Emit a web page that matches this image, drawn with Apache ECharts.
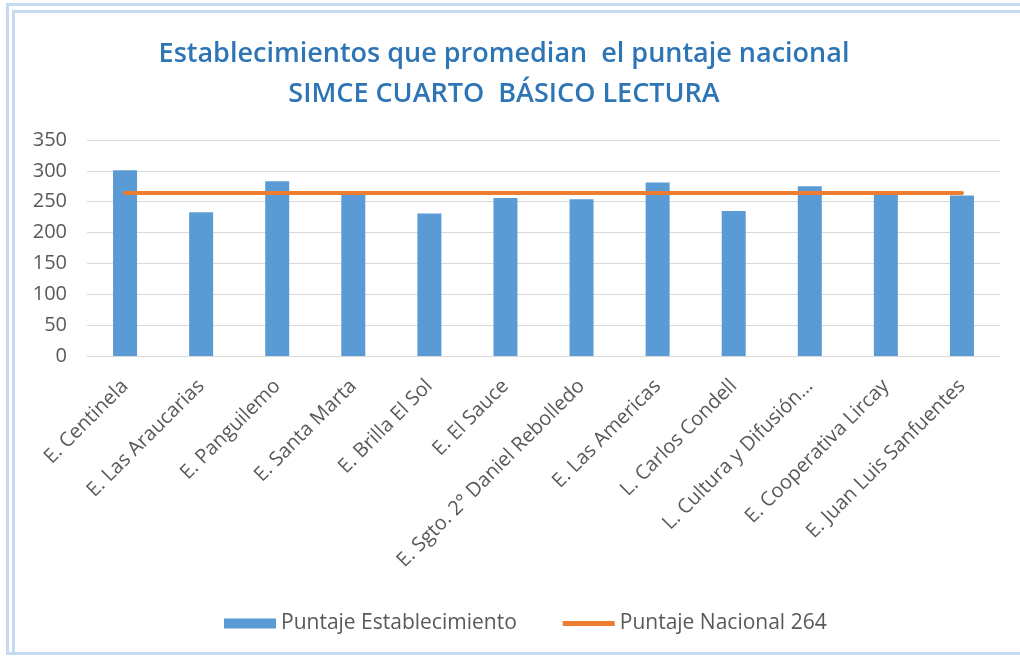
<!DOCTYPE html>
<html>
<head>
<meta charset="utf-8">
<script src="https://cdn.jsdelivr.net/npm/echarts@6/dist/echarts.min.js"></script>
<style>
  html, body { margin: 0; padding: 0; background: #ffffff; }
  #frame {
    position: absolute; left: 6px; top: 3px; width: 1020px; height: 652px;
    border-left: 3px solid #c5daf0; border-top: 3px solid #c5daf0; border-bottom: 3px solid #c5daf0;
    box-sizing: border-box;
  }
  #frame2 {
    position: absolute; left: 12px; top: 10px; width: 1010px; height: 642px;
    border-left: 3px solid #c5daf0; border-top: 3px solid #c5daf0;
    box-sizing: border-box;
  }
  #chart { position: absolute; left: 0; top: 0; width: 1020px; height: 660px; }
</style>
</head>
<body>
<div id="frame"></div>
<div id="frame2"></div>
<div id="chart"></div>
<script>
  var categories = ['E. Centinela', 'E. Las Araucarias', 'E. Panguilemo', 'E. Santa Marta',
    'E. Brilla El Sol', 'E. El Sauce', 'E. Sgto. 2° Daniel Rebolledo', 'E. Las Americas',
    'L. Carlos Condell', 'L. Cultura y Difusión…', 'E. Cooperativa Lircay', 'E. Juan Luis Sanfuentes'];
  var puntajeEstablecimiento = [301, 233, 283, 265, 231, 256, 254, 281, 235, 275, 265, 260];
  var puntajeNacional = [264, 264, 264, 264, 264, 264, 264, 264, 264, 264, 264, 264];

  var myChart = echarts.init(document.getElementById('chart'));
  var option = {
    backgroundColor: 'transparent',
    title: {
      text: 'Establecimientos que promedian  el puntaje nacional\nSIMCE CUARTO  BÁSICO LECTURA',
      left: 499,
      textAlign: 'center',
      top: 29,
      textStyle: {
        fontFamily: 'Open Sans',
        fontSize: 27,
        fontWeight: 600,
        color: '#2e75b6',
        lineHeight: 40
      }
    },
    legend: {
      bottom: 21,
      left: 219,
      itemWidth: 52,
      itemHeight: 10,
      itemGap: 46,
      textStyle: { fontFamily: 'Open Sans', fontSize: 21, color: '#595959' },
      data: [
        { name: 'Puntaje Establecimiento', icon: 'rect' },
        { name: 'Puntaje Nacional 264', icon: 'path://M0,0 L52,0 L52,5 L0,5 Z', itemStyle: { color: '#ed7d31' } }
      ]
    },
    grid: {
      left: 87,
      right: 20,
      top: 140,
      bottom: 304
    },
    xAxis: {
      type: 'category',
      data: categories,
      axisLine: { lineStyle: { color: '#d9d9d9', width: 1 } },
      axisTick: { show: false },
      axisLabel: {
        rotate: 45,
        interval: 0,
        fontFamily: 'Open Sans',
        fontSize: 20,
        color: '#595959',
        margin: 27
      }
    },
    yAxis: {
      type: 'value',
      min: 0,
      max: 350,
      interval: 50,
      axisLine: { show: false },
      axisTick: { show: false },
      splitLine: { lineStyle: { color: '#d9d9d9', width: 1 } },
      axisLabel: {
        fontFamily: 'Open Sans',
        fontSize: 20,
        color: '#595959',
        margin: 20
      }
    },
    series: [
      {
        name: 'Puntaje Establecimiento',
        type: 'bar',
        data: puntajeEstablecimiento,
        barWidth: 24,
        itemStyle: { color: '#5b9bd5' }
      },
      {
        name: 'Puntaje Nacional 264',
        type: 'line',
        data: puntajeNacional,
        symbol: 'none',
        itemStyle: { color: '#ed7d31' },
        lineStyle: { color: '#ed7d31', width: 4, cap: 'round' }
      }
    ]
  };
  option && myChart.setOption(option);
</script>
</body>
</html>
